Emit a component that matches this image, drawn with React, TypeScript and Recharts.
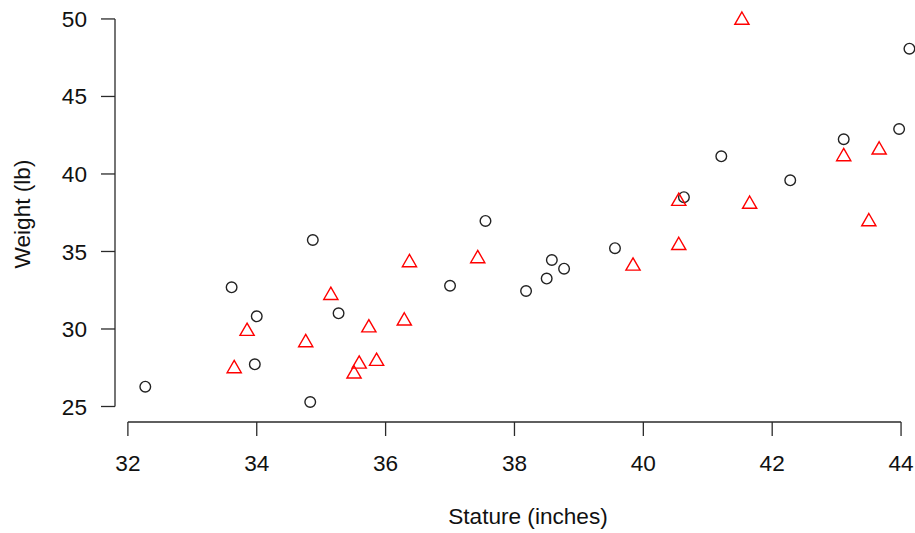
import { ScatterChart, Scatter, XAxis, YAxis, ReferenceLine, Label } from 'recharts'

// black circles
const circleStature = [32.27, 33.61, 34.0, 33.97, 34.87, 35.27, 34.83, 37.0, 37.55, 38.18, 38.5, 38.58, 38.77, 39.56, 40.63, 41.21, 42.28, 43.11, 43.97, 44.13]
const circleWeight = [26.28, 32.69, 30.82, 27.72, 35.74, 31.01, 25.29, 32.79, 36.97, 32.45, 33.25, 34.45, 33.89, 35.21, 38.5, 41.14, 39.59, 42.24, 42.9, 48.08]

// red triangles
const triangleStature = [33.65, 33.85, 34.76, 35.15, 35.74, 36.29, 36.37, 35.59, 35.51, 35.86, 37.43, 39.84, 40.55, 40.55, 41.53, 41.65, 43.11, 43.66, 43.5]
const triangleWeight = [27.44, 29.85, 29.12, 32.17, 30.08, 30.52, 34.28, 27.74, 27.1, 27.92, 34.54, 34.06, 35.39, 38.24, 49.92, 38.05, 41.12, 41.55, 36.92]

const xTicks = [32, 34, 36, 38, 40, 42, 44]
const yTicks = [25, 30, 35, 40, 45, 50]

const X_DOMAIN = [31.8, 44.62]
const Y_DOMAIN = [24.0, 50.9]

const FONT = '"Liberation Sans", Arial, Helvetica, sans-serif'
const FS = 22.6
const AXIS = '#2a2a2a'

const circleData = circleStature.map((x, i) => ({ x, y: circleWeight[i] }))
const triangleData = triangleStature.map((x, i) => ({ x, y: triangleWeight[i] }))

const CircleMark = (props: any) => {
  const { cx, cy } = props
  return <circle cx={cx} cy={cy} r={5.3} fill="none" stroke="#222" strokeWidth={1.4} />
}

const TriangleMark = (props: any) => {
  const { cx, cy } = props
  const pts = `${cx},${cy - 8.2} ${cx + 7.1},${cy + 4.1} ${cx - 7.1},${cy + 4.1}`
  return <polygon points={pts} fill="none" stroke="#ff0000" strokeWidth={1.4} />
}

export default function App() {
  return (
    <div style={{ position: 'absolute', left: 0, top: 0, width: 915, height: 533, overflow: 'hidden', background: '#fff' }}>
      <ScatterChart width={941} height={533} margin={{ top: 5, right: 0, bottom: 0, left: 0 }}>
        <XAxis
          type="number"
          dataKey="x"
          domain={X_DOMAIN}
          ticks={xTicks}
          interval={0}
          axisLine={false}
          tickSize={14}
          tickMargin={19}
          tickLine={{ stroke: AXIS, strokeWidth: 1.3 }}
          tick={{ fill: '#111', fontSize: FS, fontFamily: FONT }}
          height={111}
        >
          <Label value="Stature (inches)" position="insideBottom" offset={9} fill="#111" fontSize={FS} fontFamily={FONT} />
        </XAxis>
        <YAxis
          type="number"
          dataKey="y"
          domain={Y_DOMAIN}
          ticks={yTicks}
          interval={0}
          axisLine={false}
          tickSize={14}
          tickMargin={14}
          tickLine={{ stroke: AXIS, strokeWidth: 1.3 }}
          tick={{ fill: '#111', fontSize: FS, fontFamily: FONT }}
          width={115}
        >
          <Label
            content={() => (
              <text x={22} y={214} transform="rotate(-90 22 214)" textAnchor="middle" dominantBaseline="central" fill="#111" fontSize={FS} fontFamily={FONT}>
                Weight (lb)
              </text>
            )}
          />
        </YAxis>
        <ReferenceLine segment={[{ x: xTicks[0], y: Y_DOMAIN[0] }, { x: xTicks[xTicks.length - 1], y: Y_DOMAIN[0] }]} stroke={AXIS} strokeWidth={1.3} ifOverflow="visible" />
        <ReferenceLine segment={[{ x: X_DOMAIN[0], y: yTicks[0] }, { x: X_DOMAIN[0], y: yTicks[yTicks.length - 1] }]} stroke={AXIS} strokeWidth={1.3} ifOverflow="visible" />
        <Scatter data={circleData} shape={CircleMark} isAnimationActive={false} />
        <Scatter data={triangleData} shape={TriangleMark} isAnimationActive={false} />
      </ScatterChart>
    </div>
  )
}
